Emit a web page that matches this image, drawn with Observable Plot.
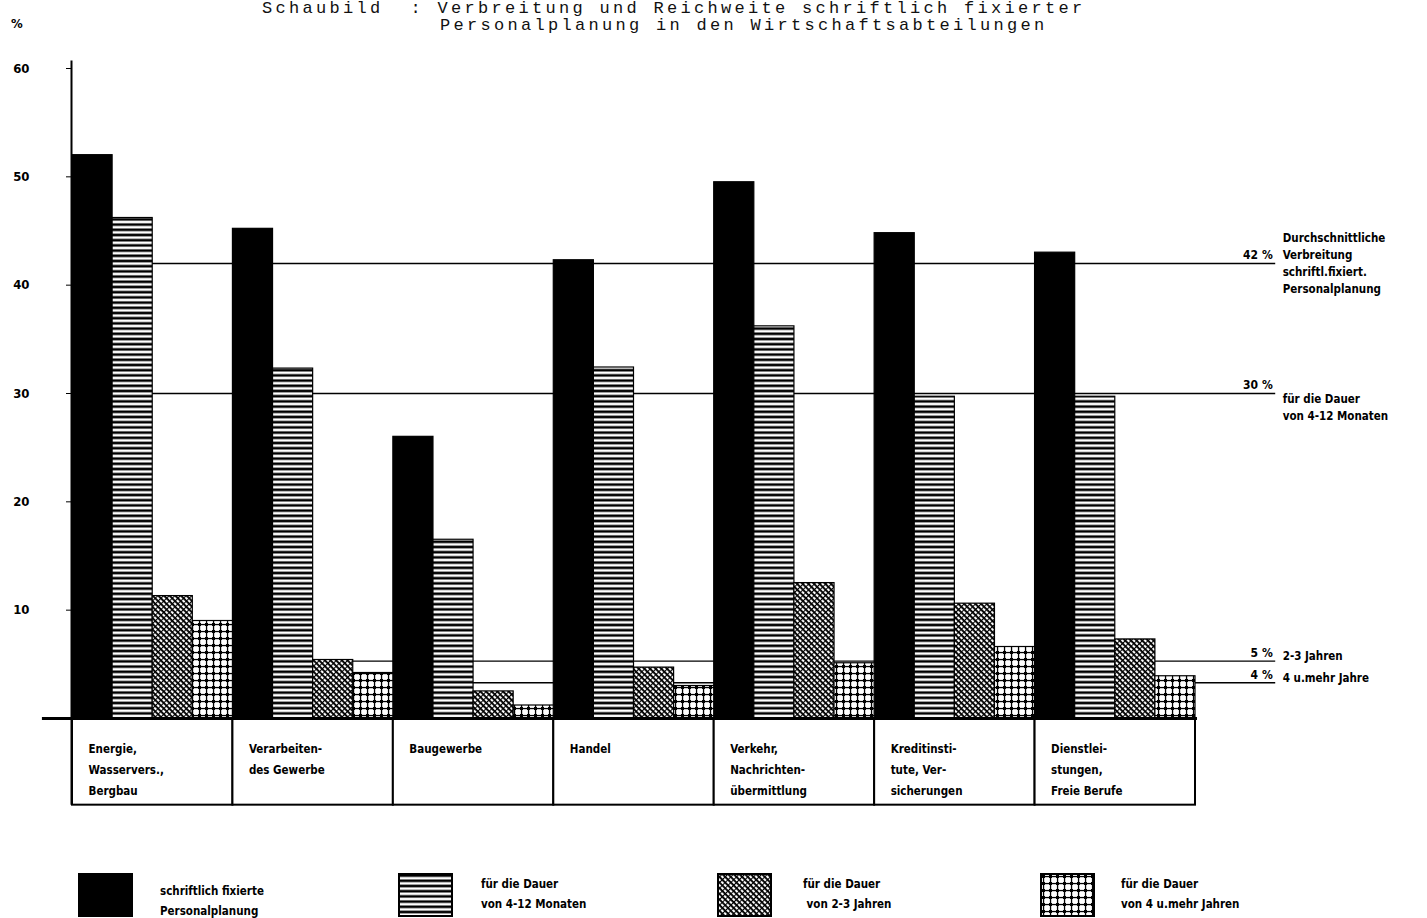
<!DOCTYPE html>
<html>
<head>
<meta charset="utf-8">
<script src="https://cdn.jsdelivr.net/npm/d3@7"></script>
<script src="https://cdn.jsdelivr.net/npm/@observablehq/plot@0.6"></script>
<style>
  body { margin: 0; background: #fff; }
  #page { position: relative; width: 1427px; height: 918px; overflow: hidden; background: #fff; }
  #title { position: absolute; top: 0px; left: 0; width: 1427px; font-family: "Liberation Mono", monospace; font-size: 17px; letter-spacing: 3.3px; line-height: 17px; color: #111; white-space: pre; }
  #pct { position: absolute; left: 11px; top: 16px; font-family: "DejaVu Sans Condensed", "DejaVu Sans", sans-serif; font-weight: bold; font-size: 13px; }
  #chart { position: absolute; left: 0; top: 40px; }
  .lg-sw { position: absolute; top: 873px; width: 55px; height: 44px; }
  .lg-tx { position: absolute; font-family: "DejaVu Sans Condensed", "DejaVu Sans", sans-serif; font-weight: bold; font-size: 11.5px; line-height: 20px; white-space: pre; }
</style>
</head>
<body>
<div id="page">
  <svg width="0" height="0" style="position:absolute">
    <defs>
      <pattern id="pat-stripes" width="8" height="5.2" patternUnits="userSpaceOnUse">
        <rect width="8" height="5.2" fill="#fff"/>
        <rect y="1.3" width="8" height="2.6" fill="#000"/>
      </pattern>
      <pattern id="pat-hatch" width="4" height="4" patternUnits="userSpaceOnUse" patternTransform="rotate(45)">
        <rect width="4" height="4" fill="#fff"/>
        <rect width="4" height="1.9" fill="#000"/>
        <rect width="1.1" height="4" fill="#000"/>
      </pattern>
      <pattern id="pat-dots" width="7" height="7" patternUnits="userSpaceOnUse">
        <rect width="7" height="7" fill="#fff"/>
        <rect y="2.9" width="7" height="1.3" fill="#000"/>
        <rect x="2.9" width="1.3" height="7" fill="#000"/>
        <rect x="2" y="2" width="3" height="3" fill="#000"/>
      </pattern>
    </defs>
  </svg>
  <div id="title"></div>
  <div id="pct">%</div>
  <div id="chart"></div>
  <div id="legend"></div>
</div>
<script>
// ---------- DATA ----------
const titleLines = [
  "Schaubild  : Verbreitung und Reichweite schriftlich fixierter",
  "Personalplanung in den Wirtschaftsabteilungen"
];
const categories = [
  "Energie,\nWasservers.,\nBergbau",
  "Verarbeiten-\ndes Gewerbe",
  "Baugewerbe",
  "Handel",
  "Verkehr,\nNachrichten-\nübermittlung",
  "Kreditinsti-\ntute, Ver-\nsicherungen",
  "Dienstlei-\nstungen,\nFreie Berufe"
];
const seriesNames = [
  "schriftlich fixierte\nPersonalplanung",
  "für die Dauer\nvon 4-12 Monaten",
  "für die Dauer\n von 2-3 Jahren",
  "für die Dauer\nvon 4 u.mehr Jahren"
];
const schriftlichFixiert = [52.0, 45.2, 26.0, 42.3, 49.5, 44.8, 43.0];
const dauer4bis12Monate  = [46.2, 32.3, 16.5, 32.4, 36.2, 29.7, 29.7];
const dauer2bis3Jahre    = [11.3, 5.4, 2.5, 4.7, 12.5, 10.6, 7.3];
const dauer4JahreMehr    = [9.0, 4.2, 1.2, 3.0, 5.1, 6.6, 3.9];
const yTicks = [10, 20, 30, 40, 50, 60];
const refValues = [42, 30, 5.3, 3.3];
const refPercentLabels = ["42 %", "30 %", "5 %", "4 %"];
const refNotes = [
  "Durchschnittliche\nVerbreitung\nschriftl.fixiert.\nPersonalplanung",
  "für die Dauer\nvon 4-12 Monaten",
  "2-3 Jahren",
  "4 u.mehr Jahre"
];

// ---------- STYLE ----------
const FONT = '"DejaVu Sans Condensed", "DejaVu Sans", sans-serif';
const fills = ["#000", "url(#pat-stripes)", "url(#pat-hatch)", "url(#pat-dots)"];
const noteOffsets = [-34, -3, -13, -13];   // px offset of note text from its line
const nS = 4;

// title
document.getElementById("title").innerHTML =
  `<div style="padding-left:262px">${titleLines[0]}</div><div style="padding-left:440px">${titleLines[1]}</div>`;

const seriesValues = [schriftlichFixiert, dauer4bis12Monate, dauer2bis3Jahre, dauer4JahreMehr];
const groups = categories.map((c, g) => ({g, c}));
const refs = refValues.map((v, i) => ({v, p: refPercentLabels[i], n: refNotes[i]}));

const barMarks = seriesValues.map((vals, s) =>
  Plot.rectY(vals.map((v, g) => ({g, s, v})), {
    x1: d => d.g * nS + d.s,
    x2: d => d.g * nS + d.s + 1,
    y1: 0, y2: "v",
    fill: fills[s], stroke: "#000", strokeWidth: 1.2
  })
);

const noteMarks = refs.map((r, i) =>
  Plot.text([r], {
    x: 30, y: "v", text: "n",
    textAnchor: "start", lineAnchor: "top",
    dx: 7, dy: noteOffsets[i],
    lineHeight: 1.5, fontSize: 11.5, fontWeight: "bold", fontFamily: FONT
  })
);

const chart = Plot.plot({
  width: 1427,
  height: 800,
  marginLeft: 72,
  marginRight: 232,
  marginTop: 28,
  marginBottom: 35.33,
  x: {domain: [0, 28], axis: null},
  y: {domain: [-8, 60], axis: null},
  style: {background: "#fff", overflow: "visible", fontFamily: FONT, color: "#000"},
  marks: [
    Plot.ruleY(refs, {y: "v", x1: 0, x2: 30, stroke: "#000", strokeWidth: 1.3}),
    ...barMarks,
    Plot.rect(groups, {x1: d => d.g * nS, x2: d => (d.g + 1) * nS, y1: 0, y2: -8,
      fill: "#fff", stroke: "#000", strokeWidth: 2}),
    Plot.ruleY([0], {x1: -0.75, x2: 28.05, stroke: "#000", strokeWidth: 3}),
    Plot.ruleX([0], {y1: -8, y2: 60.7, stroke: "#000", strokeWidth: 2, dx: -1}),
    Plot.axisY({ticks: yTicks, tickSize: 6, tickPadding: 37, fontSize: 13, fontWeight: "bold",
      label: null, fontFamily: FONT}),
    Plot.text(groups, {x: d => d.g * nS, y: 0, text: "c", textAnchor: "start", lineAnchor: "top",
      dx: 16, dy: 19, lineHeight: 1.85, fontSize: 11.5, fontWeight: "bold", fontFamily: FONT}),
    Plot.text(refs, {x: 30, y: "v", text: "p", textAnchor: "end", dx: -3, dy: -8,
      fontSize: 12, fontWeight: "bold", fontFamily: FONT}),
    ...noteMarks
  ]
});
document.getElementById("chart").appendChild(chart);

// legend
const swLeft = [78, 398, 717, 1040];
const txLeft = [160, 481, 803, 1121];
const txTop = [881, 874, 874, 874];
const legend = document.getElementById("legend");
seriesNames.forEach((name, i) => {
  const sw = document.createElementNS("http://www.w3.org/2000/svg", "svg");
  sw.setAttribute("class", "lg-sw");
  sw.setAttribute("width", 55); sw.setAttribute("height", 44);
  sw.style.left = swLeft[i] + "px";
  const r = document.createElementNS("http://www.w3.org/2000/svg", "rect");
  r.setAttribute("x", 1); r.setAttribute("y", 1); r.setAttribute("width", 53); r.setAttribute("height", 42);
  r.setAttribute("fill", fills[i]); r.setAttribute("stroke", "#000"); r.setAttribute("stroke-width", 2);
  sw.appendChild(r);
  legend.appendChild(sw);
  const t = document.createElement("div");
  t.className = "lg-tx";
  t.style.left = txLeft[i] + "px";
  t.style.top = txTop[i] + "px";
  t.textContent = name;
  legend.appendChild(t);
});
</script>
</body>
</html>
